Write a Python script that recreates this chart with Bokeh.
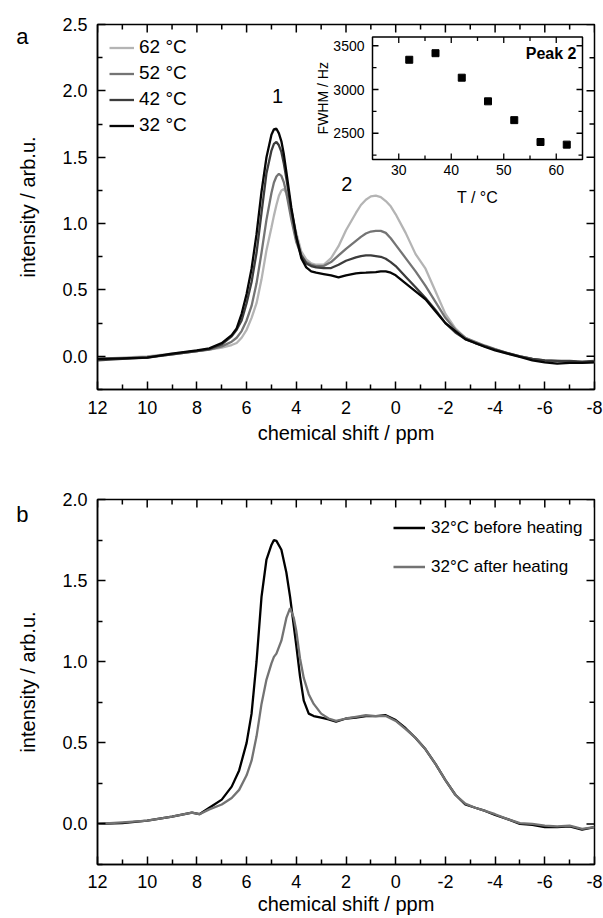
import math
from bokeh.plotting import figure
from bokeh.models import Range1d, LinearAxis, FixedTicker, Legend, LegendItem
from bokeh.layouts import column
from bokeh.embed import file_html
from bokeh.resources import INLINE
from bokeh.core.properties import value

FONT = "Liberation Sans"

# ---------------- data: panel a ----------------
ppm_a = [12, 11, 10, 9, 8, 7.5, 7, 6.6, 6.4, 6.2, 6.0, 5.8, 5.6, 5.4, 5.2, 5.0, 4.9, 4.8,
         4.7, 4.6, 4.5, 4.4, 4.2, 4.0, 3.8, 3.6, 3.4, 3.2, 2.9, 2.6, 2.3, 2.0, 1.6, 1.4, 1.2,
         1.0, 0.8, 0.6, 0.4, 0.2, 0.0, -0.4, -0.8, -1.2, -1.6, -2.0, -2.4, -2.8, -3.2, -3.6,
         -4.0, -4.5, -5.0, -5.5, -6.0, -6.5, -7.0, -7.5, -8.0]
int_62 = [-0.02, -0.01, 0.0, 0.02, 0.04, 0.05, 0.065, 0.085, 0.10, 0.14, 0.20, 0.29, 0.40,
          0.58, 0.80, 0.97, 1.06, 1.14, 1.21, 1.25, 1.26, 1.23, 1.10, 0.93, 0.79, 0.73, 0.70,
          0.69, 0.69, 0.74, 0.83, 0.95, 1.08, 1.14, 1.18, 1.205, 1.21, 1.20, 1.17, 1.13, 1.07,
          0.93, 0.77, 0.66, 0.49, 0.32, 0.21, 0.14, 0.10, 0.075, 0.05, 0.02, 0.0, -0.02,
          -0.035, -0.04, -0.04, -0.045, -0.045]
int_52 = [-0.02, -0.015, -0.005, 0.015, 0.04, 0.05, 0.075, 0.11, 0.14, 0.19, 0.27, 0.38, 0.55,
          0.78, 1.03, 1.23, 1.31, 1.355, 1.375, 1.36, 1.31, 1.23, 1.03, 0.86, 0.76, 0.71, 0.69,
          0.68, 0.68, 0.71, 0.76, 0.81, 0.87, 0.90, 0.925, 0.94, 0.945, 0.945, 0.93, 0.89,
          0.84, 0.74, 0.64, 0.53, 0.41, 0.29, 0.20, 0.14, 0.11, 0.08, 0.055, 0.025, 0.0, -0.02,
          -0.03, -0.035, -0.04, -0.045, -0.04]
int_42 = [-0.03, -0.02, -0.01, 0.015, 0.04, 0.055, 0.09, 0.15, 0.20, 0.27, 0.40, 0.56, 0.78,
          1.08, 1.38, 1.55, 1.60, 1.615, 1.59, 1.54, 1.45, 1.34, 1.10, 0.90, 0.76, 0.70, 0.68,
          0.67, 0.665, 0.665, 0.69, 0.72, 0.745, 0.755, 0.76, 0.76, 0.755, 0.75, 0.735, 0.71,
          0.68, 0.60, 0.52, 0.44, 0.35, 0.25, 0.18, 0.13, 0.10, 0.075, 0.05, 0.025, 0.0, -0.02,
          -0.03, -0.035, -0.035, -0.04, -0.035]
int_32 = [-0.02, -0.015, -0.01, 0.02, 0.045, 0.06, 0.10, 0.16, 0.21, 0.32, 0.47, 0.66, 0.92,
          1.24, 1.50, 1.67, 1.71, 1.715, 1.68, 1.62, 1.52, 1.39, 1.12, 0.90, 0.74, 0.67, 0.64,
          0.63, 0.62, 0.61, 0.595, 0.61, 0.625, 0.628, 0.63, 0.633, 0.635, 0.64, 0.64, 0.63,
          0.61, 0.55, 0.49, 0.43, 0.34, 0.25, 0.19, 0.13, 0.10, 0.07, 0.045, 0.02, -0.005,
          -0.03, -0.045, -0.055, -0.05, -0.05, -0.045]
series_a_labels = ["62 °C", "52 °C", "42 °C", "32 °C"]
series_a_colors = ["#b4b4b4", "#747474", "#3c3c3c", "#050505"]

peak_labels = ["1", "2"]
peak_ppm = [4.75, 1.97]
peak_y = [1.96, 1.30]

# inset
inset_T = [32, 37, 42, 47, 52, 57, 62]
inset_fwhm = [3340, 3415, 3135, 2865, 2650, 2400, 2370]
inset_xlim = (25, 65)
inset_ylim = (2200, 3600)
inset_x_ticks = [30, 40, 50, 60]
inset_x_minor = [35, 45, 55]
inset_y_ticks = [2500, 3000, 3500]
inset_y_minor = [2250, 2750, 3250]

# ---------------- data: panel b ----------------
ppm_b = [12, 11, 10, 9, 8.2, 7.9, 7.5, 7.0, 6.6, 6.3, 6.0, 5.8, 5.6, 5.4, 5.2, 5.0, 4.9, 4.8,
         4.6, 4.4, 4.25, 4.1, 4.0, 3.85, 3.7, 3.5, 3.3, 3.0, 2.7, 2.4, 2.0, 1.6, 1.2, 0.8, 0.4,
         0.0, -0.4, -0.8, -1.2, -1.6, -2.0, -2.4, -2.8, -3.2, -3.6, -4.0, -4.5, -5.0, -5.5,
         -6.0, -6.5, -7.0, -7.5, -8.0]
before_heating = [0.0, 0.005, 0.02, 0.045, 0.07, 0.06, 0.10, 0.15, 0.23, 0.33, 0.50, 0.68, 1.00,
                  1.40, 1.63, 1.72, 1.75, 1.745, 1.69, 1.55, 1.40, 1.22, 1.10, 0.91, 0.76, 0.68,
                  0.665, 0.655, 0.645, 0.63, 0.65, 0.655, 0.665, 0.665, 0.67, 0.64, 0.59, 0.53,
                  0.46, 0.37, 0.27, 0.18, 0.12, 0.10, 0.08, 0.055, 0.03, 0.0, -0.005, -0.02,
                  -0.02, -0.015, -0.035, -0.02]
after_heating = [0.0, 0.01, 0.02, 0.045, 0.07, 0.06, 0.09, 0.12, 0.16, 0.21, 0.30, 0.39, 0.54,
                 0.74, 0.89, 0.99, 1.03, 1.05, 1.13, 1.27, 1.33, 1.27, 1.19, 1.02, 0.90, 0.80,
                 0.74, 0.68, 0.65, 0.635, 0.65, 0.66, 0.67, 0.665, 0.665, 0.635, 0.585, 0.53,
                 0.46, 0.37, 0.27, 0.18, 0.125, 0.10, 0.08, 0.06, 0.03, 0.005, 0.0, -0.01,
                 -0.015, -0.01, -0.03, -0.02]
series_b_labels = ["32°C before heating", "32°C after heating"]
series_b_colors = ["#000000", "#737373"]

# ticks
x_ticks = [12, 10, 8, 6, 4, 2, 0, -2, -4, -6, -8]
x_tick_labels = ["12", "10", "8", "6", "4", "2", "0", "-2", "-4", "-6", "-8"]
x_minor = [11, 9, 7, 5, 3, 1, -1, -3, -5, -7]
ya_ticks = [0.0, 0.5, 1.0, 1.5, 2.0, 2.5]
ya_labels = ["0.0", "0.5", "1.0", "1.5", "2.0", "2.5"]
ya_minor = [-0.25, 0.25, 0.75, 1.25, 1.75, 2.25]
yb_ticks = [0.0, 0.5, 1.0, 1.5, 2.0]
yb_labels = ["0.0", "0.5", "1.0", "1.5", "2.0"]
yb_minor = [-0.25, 0.25, 0.75, 1.25, 1.75]

X_RANGE = (12, -8)
YA_RANGE = (-0.25, 2.5)
YB_RANGE = (-0.25, 2.0)

# panel letters (drawn as the tick label of an outer left axis)
letter_a, letter_a_y = "a", 2.41
letter_b, letter_b_y = "b", 1.905

# ---------------- layout constants ----------------
W = 603
BL, BR = 97, 9
FRAME_W = W - BL - BR
FRAME_H = 365


def style_axis(ax):
    ax.axis_line_color = "black"
    ax.axis_line_width = 1.5
    ax.major_tick_in = 8
    ax.major_tick_out = 0
    ax.minor_tick_in = 5
    ax.minor_tick_out = 0
    ax.major_tick_line_color = "black"
    ax.minor_tick_line_color = "black"
    ax.major_tick_line_width = 1.5
    ax.minor_tick_line_width = 1.5
    ax.major_label_text_font = FONT
    ax.major_label_text_color = "black"
    ax.major_label_text_font_size = "18px"
    ax.axis_label_text_font = FONT
    ax.axis_label_text_font_size = "20px"
    ax.axis_label_text_font_style = "normal"
    ax.axis_label_text_color = "black"


def make_panel(height, btop, bbot, yr, yt, ylab, ymin, xstand, xlstand, letter, letter_y):
    p = figure(width=W, height=height, x_range=Range1d(*X_RANGE), y_range=Range1d(*yr),
               output_backend="svg", toolbar_location=None,
               min_border_left=BL, min_border_right=BR, min_border_top=btop,
               min_border_bottom=bbot)
    p.xgrid.visible = False
    p.ygrid.visible = False
    p.outline_line_color = "black"
    p.outline_line_width = 1.5
    p.background_fill_color = "white"
    p.border_fill_color = "white"
    xa = p.xaxis[0]
    xa.ticker = FixedTicker(ticks=x_ticks, minor_ticks=x_minor)
    xa.major_label_overrides = dict(zip(x_ticks, x_tick_labels))
    xa.axis_label = "chemical shift / ppm"
    style_axis(xa)
    xa.major_label_standoff = xstand
    xa.axis_label_standoff = xlstand
    ya = p.yaxis[0]
    ya.ticker = FixedTicker(ticks=yt, minor_ticks=ymin)
    ya.major_label_overrides = dict(zip(yt, ylab))
    ya.axis_label = "intensity / arb.u."
    style_axis(ya)
    ya.major_label_standoff = 10
    ya.axis_label_standoff = 20
    # outer left axis carrying only the panel letter
    la = LinearAxis(ticker=FixedTicker(ticks=[letter_y], minor_ticks=[]),
                    major_label_overrides={letter_y: letter},
                    axis_line_color=None, major_tick_line_color=None, minor_tick_line_color=None,
                    major_tick_in=0, major_tick_out=0, minor_tick_in=0, minor_tick_out=0,
                    major_label_standoff=-14, major_label_orientation="horizontal",
                    major_label_text_font=FONT, major_label_text_font_size="22px",
                    major_label_text_color="black")
    p.add_layout(la, "left")
    # mirrored inward ticks on the top and right frame edges
    y0, y1 = yr
    rk = dict(length_units="screen", line_color="black", line_width=1.5)
    p.ray(x=x_ticks, y=[y1] * len(x_ticks), length=8, angle=-math.pi / 2, **rk)
    p.ray(x=x_minor, y=[y1] * len(x_minor), length=5, angle=-math.pi / 2, **rk)
    p.ray(x=[X_RANGE[1]] * len(yt), y=yt, length=8, angle=math.pi, **rk)
    p.ray(x=[X_RANGE[1]] * len(ymin), y=ymin, length=5, angle=math.pi, **rk)
    return p


# ---------------- panel a ----------------
BT1, BB1 = 24, 58
p1 = make_panel(BT1 + FRAME_H + BB1, BT1, BB1, YA_RANGE, ya_ticks, ya_labels, ya_minor, 11, 5,
                letter_a, letter_a_y)

series_a = [int_62, int_52, int_42, int_32]
renderers_a = []
for ys, col in zip(series_a, series_a_colors):
    renderers_a.append(p1.line(ppm_a, ys, line_color=col, line_width=2.3))

leg_a = Legend(items=[LegendItem(label=l, renderers=[r]) for l, r in zip(series_a_labels, renderers_a)],
               location="top_left", margin=12, padding=0, spacing=4,
               glyph_width=25, glyph_height=21, label_height=21, label_standoff=5,
               label_text_font=FONT, label_text_font_size="19px", label_text_color="black",
               border_line_color=None, background_fill_alpha=0)
p1.add_layout(leg_a)

p1.text(x=peak_ppm, y=peak_y, text=peak_labels, text_font=value(FONT), text_font_size="20px",
        text_align="center", text_baseline="middle", text_color="black")

# inset placed in frame pixel box (left, right from frame left; top, bottom from frame top)
IN_L, IN_R, IN_T, IN_B = FRAME_W - 222, FRAME_W - 12, 12.5, 135
sx = (inset_xlim[1] - inset_xlim[0]) / (IN_R - IN_L)
ix0 = inset_xlim[0] - IN_L * sx
ix1 = ix0 + FRAME_W * sx
sy = (inset_ylim[1] - inset_ylim[0]) / (IN_B - IN_T)
iy0 = inset_ylim[0] - (FRAME_H - IN_B) * sy
iy1 = iy0 + FRAME_H * sy
p1.extra_x_ranges = {"ix": Range1d(ix0, ix1)}
p1.extra_y_ranges = {"iy": Range1d(iy0, iy1)}
kw = dict(x_range_name="ix", y_range_name="iy")

p1.quad(left=[inset_xlim[0]], right=[inset_xlim[1]], bottom=[inset_ylim[0]], top=[inset_ylim[1]],
        fill_color="white", line_color="black", line_width=1.5, **kw)


def ticks(xs, ys, ang, length):
    p1.ray(x=xs, y=ys, length=length, length_units="screen", angle=ang,
           line_color="black", line_width=1.3, **kw)


nx, nxm = len(inset_x_ticks), len(inset_x_minor)
ny, nym = len(inset_y_ticks), len(inset_y_minor)
ticks(inset_x_ticks, [inset_ylim[0]] * nx, math.pi / 2, 6)
ticks(inset_x_minor, [inset_ylim[0]] * nxm, math.pi / 2, 4)
ticks(inset_x_ticks, [inset_ylim[1]] * nx, -math.pi / 2, 6)
ticks(inset_x_minor, [inset_ylim[1]] * nxm, -math.pi / 2, 4)
ticks([inset_xlim[0]] * ny, inset_y_ticks, 0, 6)
ticks([inset_xlim[0]] * nym, inset_y_minor, 0, 4)
ticks([inset_xlim[1]] * ny, inset_y_ticks, math.pi, 6)
ticks([inset_xlim[1]] * nym, inset_y_minor, math.pi, 4)

p1.text(x=inset_x_ticks, y=[inset_ylim[0]] * nx, text=[str(t) for t in inset_x_ticks],
        y_offset=5, text_align="center", text_baseline="top", text_font=value(FONT),
        text_font_size="14px", text_color="black", **kw)
p1.text(x=[inset_xlim[0]] * ny, y=inset_y_ticks, text=[str(t) for t in inset_y_ticks],
        x_offset=-8, text_align="right", text_baseline="middle", text_font=value(FONT),
        text_font_size="14px", text_color="black", **kw)
xmid = (inset_xlim[0] + inset_xlim[1]) / 2
ymid = (inset_ylim[0] + inset_ylim[1]) / 2
p1.text(x=[xmid], y=[inset_ylim[0]], text=["T / °C"], y_offset=29, text_align="center",
        text_baseline="top", text_font=value(FONT), text_font_size="16px", text_color="black", **kw)
p1.text(x=[inset_xlim[0]], y=[ymid], text=["FWHM / Hz"], x_offset=-50, angle=math.pi / 2,
        text_align="center", text_baseline="middle", text_font=value(FONT),
        text_font_size="14px", text_color="black", **kw)
p1.text(x=[inset_xlim[1]], y=[inset_ylim[1]], text=["Peak 2"], x_offset=-6, y_offset=8,
        text_align="right", text_baseline="top", text_font=value(FONT), text_font_size="16px",
        text_font_style="bold", text_color="black", **kw)
p1.scatter(x=inset_T, y=inset_fwhm, marker="square", size=7, fill_color="black",
           line_color="black", **kw)

# ---------------- panel b ----------------
BT2, BB2 = 52, 54
FH2 = FRAME_H
p2 = make_panel(BT2 + FH2 + BB2, BT2, BB2, YB_RANGE, yb_ticks, yb_labels, yb_minor, 10, 2,
                letter_b, letter_b_y)

renderers_b = []
for ys, col in zip([before_heating, after_heating], series_b_colors):
    renderers_b.append(p2.line(ppm_b, ys, line_color=col, line_width=2.3))

LB_H = 19
LB_SP = 19
leg_h = 2 * LB_H + LB_SP
leg_b = Legend(items=[LegendItem(label=l, renderers=[r]) for l, r in zip(series_b_labels, renderers_b)],
               location=(296, FH2 - 20.5 - leg_h), margin=0, padding=0, spacing=LB_SP,
               glyph_width=32, glyph_height=LB_H, label_height=LB_H, label_standoff=6,
               label_text_font=FONT, label_text_font_size="17px", label_text_color="black",
               border_line_color=None, background_fill_alpha=0)
p2.add_layout(leg_b)

layout = column(p1, p2, spacing=0)
open("out.html", "w").write(file_html(layout, INLINE))
